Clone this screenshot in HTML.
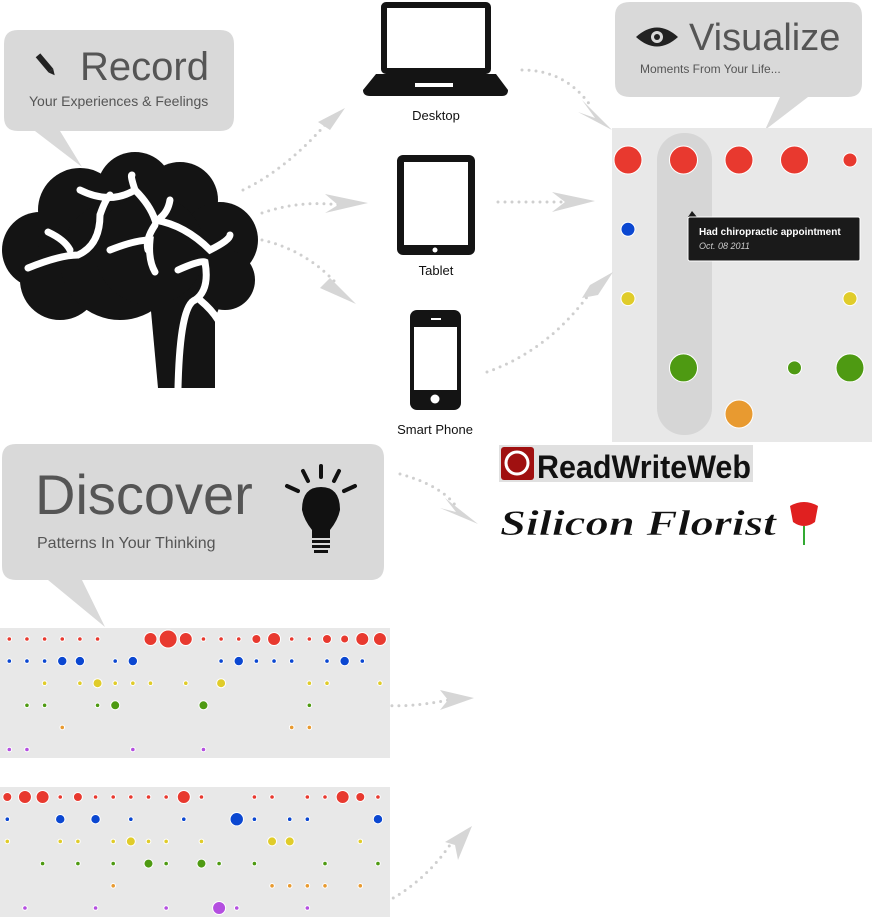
<!DOCTYPE html>
<html><head><meta charset="utf-8"><style>
html,body{margin:0;padding:0;background:#fff;width:872px;height:919px;overflow:hidden}
svg{display:block;font-family:"Liberation Sans",sans-serif}
</style></head><body>
<svg id="root" width="872" height="919" viewBox="0 0 872 919">
<!-- Record bubble -->
<g>
<path d="M18 30 H220 Q234 30 234 44 V117 Q234 131 220 131 H60 L82 167 L35 131 H18 Q4 131 4 117 V44 Q4 30 18 30Z" fill="#d9d9d9"/>
<g transform="translate(47,66) rotate(-40)"><rect x="-3" y="-14" width="6" height="20" fill="#222"/><path d="M-3 6 L0 12 L3 6Z" fill="#222"/></g>
<text x="80" y="80" font-size="40" fill="#555">Record</text>
<text x="29" y="106" font-size="14" fill="#555">Your Experiences &amp; Feelings</text>
</g>
<!-- Brain -->
<g fill="#141414">
<circle cx="40" cy="250" r="38"/><circle cx="80" cy="210" r="42"/><circle cx="135" cy="190" r="38"/><circle cx="180" cy="200" r="38"/><circle cx="220" cy="240" r="38"/><circle cx="225" cy="280" r="30"/><circle cx="60" cy="280" r="40"/><circle cx="120" cy="260" r="60"/><circle cx="190" cy="300" r="30"/><circle cx="150" cy="250" r="55"/>
<path d="M150 300 H215 V388 H158 Z"/>
<g fill="none" stroke="#fff" stroke-width="7" stroke-linecap="round">
<path d="M28 268 Q60 255 78 255 Q100 245 100 215"/><path d="M48 232 Q65 240 70 250"/>
<path d="M80 190 Q110 205 135 190 Q130 175 132 175"/><path d="M100 215 Q105 200 110 195"/>
<path d="M135 190 Q150 205 155 220 Q185 225 210 250 Q230 240 230 235"/><path d="M170 200 Q168 212 160 218"/>
<path d="M110 250 Q135 240 150 240 Q148 260 155 272"/><path d="M155 225 Q145 240 148 250"/>
<path d="M178 270 Q200 260 205 262 Q210 290 195 300 Q180 305 178 388"/><path d="M200 300 Q212 310 218 320"/>
</g></g>
<!-- Devices -->
<g>
<rect x="381" y="2" width="110" height="72" rx="5" fill="#141414"/><rect x="387" y="8" width="98" height="60" fill="#fff"/>
<path d="M376 74 H496 L508 90 Q508 96 502 96 H370 Q363 96 363 90Z" fill="#141414"/><rect x="415" y="83" width="38" height="4" fill="#fff"/>
<text x="436" y="120" font-size="13" text-anchor="middle" fill="#111">Desktop</text></g>
<g>
<rect x="397" y="155" width="78" height="100" rx="6" fill="#141414"/><rect x="404" y="162" width="64" height="83" fill="#fff"/><circle cx="435" cy="250" r="2.5" fill="#fff"/>
<text x="436" y="275" font-size="13" text-anchor="middle" fill="#111">Tablet</text></g>
<g>
<rect x="410" y="310" width="51" height="100" rx="7" fill="#141414"/><rect x="414" y="327" width="43" height="63" fill="#fff"/><circle cx="435" cy="399" r="4.5" fill="#fff"/><rect x="431" y="318" width="10" height="2" fill="#fff"/>
<text x="435" y="434" font-size="13" text-anchor="middle" fill="#111">Smart Phone</text></g>
<!-- Visualize bubble -->
<g>
<path d="M630 2 H848 Q862 2 862 16 V83 Q862 97 848 97 H808 L765 130 L780 97 H630 Q615 97 615 83 V16 Q615 2 630 2Z" fill="#d9d9d9"/>
<g><path d="M636 37 Q657 18 678 37 Q657 56 636 37Z" fill="#222"/><circle cx="657" cy="37" r="6" fill="#d9d9d9"/><circle cx="657" cy="37" r="3" fill="#222"/></g>
<text x="689" y="50" font-size="38" fill="#555">Visualize</text>
<text x="640" y="73" font-size="12" fill="#555">Moments From Your Life...</text>
</g>
<!-- Visualize panel -->
<g>
<rect x="612" y="128" width="260" height="314" fill="#e8e8e8"/>
<rect x="657" y="133" width="55" height="302" rx="27" fill="#d6d6d6"/>
<g id="vizDots"></g>
<g><path d="M688 217 L692 211 L697 217Z" fill="#1a1a1a"/><rect x="688" y="217" width="172" height="44" rx="2" fill="#1a1a1a" stroke="#fff" stroke-width="1"/>
<text x="699" y="235" font-size="10" font-weight="bold" fill="#fff">Had chiropractic appointment</text>
<text x="699" y="249" font-size="9" font-style="italic" fill="#ccc">Oct. 08 2011</text></g>
</g>
<!-- Discover bubble -->
<g>
<path d="M16 444 H370 Q384 444 384 458 V566 Q384 580 370 580 H82 L105 627 L48 580 H16 Q2 580 2 566 V458 Q2 444 16 444Z" fill="#d9d9d9"/>
<text x="35" y="514" font-size="56" fill="#555">Discover</text>
<text x="37" y="548" font-size="16" fill="#555">Patterns In Your Thinking</text>
<g fill="#111">
<path d="M321 487 Q340 487 340 510 Q338 520 330 530 L330 538 H312 L312 530 Q304 520 302 510 Q302 487 321 487Z"/>
<rect x="312" y="540" width="18" height="3"/><rect x="312" y="545" width="18" height="3"/><rect x="314" y="550" width="14" height="3"/>
<g stroke="#111" stroke-width="4" stroke-linecap="round"><line x1="321" y1="466" x2="321" y2="477"/><line x1="303" y1="471" x2="308" y2="481"/><line x1="339" y1="471" x2="334" y2="481"/><line x1="287" y1="486" x2="298" y2="491"/><line x1="355" y1="486" x2="344" y2="491"/></g></g>
</g>
<!-- Logos -->
<g>
<rect x="499" y="445" width="254" height="37" fill="#e0e0e0"/><rect x="501" y="447" width="33" height="33" rx="3" fill="#a01010"/><circle cx="517" cy="463" r="11" fill="none" stroke="#fff" stroke-width="3"/>
<text x="537" y="478" font-size="32" font-weight="bold" fill="#111" textLength="214" lengthAdjust="spacingAndGlyphs">ReadWriteWeb</text></g>
<g>
<text x="500" y="535" font-size="36" font-style="italic" font-weight="bold" font-family="Liberation Serif,serif" fill="#111" stroke="#fff" stroke-width="0.5" textLength="276" lengthAdjust="spacingAndGlyphs">Silicon Florist</text>
<path d="M790 506 Q804 498 818 506 L815 522 Q804 530 793 522Z" fill="#e02020"/><line x1="804" y1="526" x2="804" y2="545" stroke="#3a3" stroke-width="2"/></g>
<!-- Arrows -->
<g id="arrows" fill="none" stroke="#cfcfcf" stroke-width="3" stroke-linecap="round" stroke-dasharray="0 7">
<path d="M243 190 Q285 170 325 125"/><path d="M262 213 Q300 200 340 205"/><path d="M262 240 Q305 250 335 282"/>
<path d="M522 70 Q565 70 590 105"/><path d="M498 202 H565"/><path d="M487 372 Q550 350 592 290"/>
<path d="M400 474 Q440 485 455 505"/><path d="M378 705 Q410 708 448 700"/><path d="M368 910 Q420 890 452 842"/>
</g>
<g fill="#d6d6d6">
<path d="M345 108 L318 122 L330 130Z"/><path d="M368 203 L325 194 L338 205 L325 213Z"/><path d="M356 304 L330 278 L320 288Z"/>
<path d="M612 130 L582 100 L595 118 L578 112Z"/><path d="M595 201 L552 192 L565 202 L552 212Z"/><path d="M613 272 L590 285 L582 298 L598 295Z"/>
<path d="M478 524 L445 498 L456 512 L440 508Z"/><path d="M474 698 L440 690 L448 700 L440 710Z"/><path d="M472 826 L445 842 L455 845 L458 860Z"/>
</g>
<!-- Pattern charts -->
<g><rect x="0" y="628" width="390" height="130" fill="#e8e8e8"/><g id="chart1"></g></g>
<g><rect x="0" y="787" width="390" height="130" fill="#e8e8e8"/><g id="chart2"></g></g>
</svg>
<script>
const rowColors = ["#e8392f","#0b47d1","#e0cc2a","#4e9a12","#e89a30","#b44fe0"];
// chart 1 dot radii per column (0 = no dot)
const c1Red    = [2.3,2.3,2.3,2.3,2.3,2.3,0,0,6.5,9,6.5,2.3,2.3,2.3,4.5,6.5,2.3,2.3,4.5,4,6.5,6.5];
const c1Blue   = [2.3,2.3,2.3,4.7,4.7,0,2.3,4.7,0,0,0,0,2.3,4.7,2.3,2.3,2.3,0,2.3,4.7,2.3,0];
const c1Yellow = [0,0,2.3,0,2.3,4.5,2.3,2.3,2.3,0,2.3,0,4.5,0,0,0,0,2.3,2.3,0,0,2.3];
const c1Green  = [0,2.3,2.3,0,0,2.3,4.5,0,0,0,0,4.5,0,0,0,0,0,2.3,0,0,0,0];
const c1Orange = [0,0,0,2.3,0,0,0,0,0,0,0,0,0,0,0,0,2.3,2.3,0,0,0,0];
const c1Purple = [2.3,2.3,0,0,0,0,0,2.3,0,0,0,2.3,0,0,0,0,0,0,0,0,0,0];
// chart 2
const c2Red    = [4.5,6.5,6.5,2.3,4.5,2.3,2.3,2.3,2.3,2.3,6.5,2.3,0,0,2.3,2.3,0,2.3,2.3,6.5,4.5,2.3];
const c2Blue   = [2.3,0,0,4.7,0,4.7,0,2.3,0,0,2.3,0,0,6.7,2.3,0,2.3,2.3,0,0,0,4.7];
const c2Yellow = [2.3,0,0,2.3,2.3,0,2.3,4.5,2.3,2.3,0,2.3,0,0,0,4.5,4.5,0,0,0,2.3,0];
const c2Green  = [0,0,2.3,0,2.3,0,2.3,0,4.5,2.3,0,4.5,2.3,0,2.3,0,0,0,2.3,0,0,2.3];
const c2Orange = [0,0,0,0,0,0,2.3,0,0,0,0,0,0,0,0,2.3,2.3,2.3,2.3,0,2.3,0];
const c2Purple = [0,2.3,0,0,0,2.3,0,0,0,2.3,0,0,6.5,2.3,0,0,0,2.3,0,0,0,0];
// visualize panel radii: 5 columns
const vRed    = [14,14,14,14,7];
const vBlue   = [7,0,0,0,0];
const vYellow = [7,0,0,0,7];
const vGreen  = [0,14,0,7,14];
const vOrange = [0,0,14,0,0];

const NS = "http://www.w3.org/2000/svg";
function drawGrid(gid, rows, x0, dx, y0, dy){
  const g = document.getElementById(gid);
  rows.forEach((vals, r) => {
    vals.forEach((v, i) => {
      if (!v) return;
      const c = document.createElementNS(NS, "circle");
      c.setAttribute("cx", x0 + i*dx);
      c.setAttribute("cy", y0 + r*dy);
      c.setAttribute("r", v);
      c.setAttribute("fill", rowColors[r]);
      c.setAttribute("stroke", "#fff");
      c.setAttribute("stroke-width", "1");
      
      
      g.appendChild(c);
    });
  });
}
drawGrid("chart1", [c1Red,c1Blue,c1Yellow,c1Green,c1Orange,c1Purple], 9.3, 17.65, 639, 22.1);
drawGrid("chart2", [c2Red,c2Blue,c2Yellow,c2Green,c2Orange,c2Purple], 7.3, 17.65, 797, 22.2);
drawGrid("vizDots", [vRed,vBlue,vYellow,vGreen], 628, 55.5, 160, 69.3);
drawGrid("vizDots", [[],[],[],[],vOrange], 628, 55.5, 138, 69);
</script>
</body></html>
